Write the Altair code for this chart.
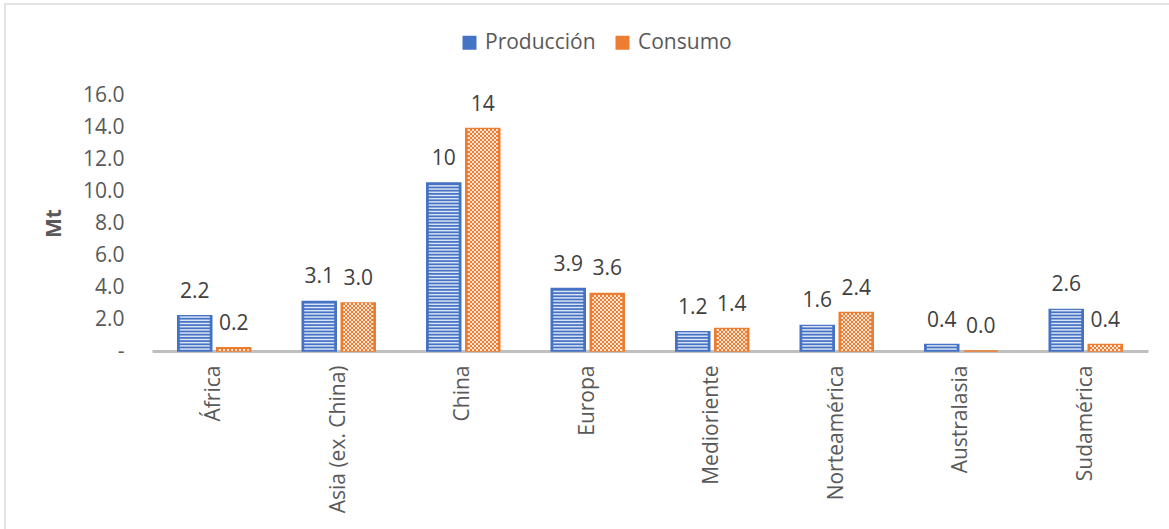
import altair as alt
import pandas as pd

# ---- data ----
categorias = ["África", "Asia (ex. China)", "China", "Europa",
              "Medioriente", "Norteamérica", "Australasia", "Sudamérica"]
series = ["Producción", "Consumo"]
produccion = [2.2, 3.1, 10.5, 3.9, 1.2, 1.6, 0.4, 2.6]
consumo = [0.2, 3.0, 13.9, 3.6, 1.4, 2.4, 0.0, 0.4]
etiquetas_produccion = ["2.2", "3.1", "10", "3.9", "1.2", "1.6", "0.4", "2.6"]
etiquetas_consumo = ["0.2", "3.0", "14", "3.6", "1.4", "2.4", "0.0", "0.4"]
ticks_y = [0, 2, 4, 6, 8, 10, 12, 14, 16]

colores = ["#4472C4", "#ED7D31"]
FONT = "Open Sans"
GRIS = "#595959"
FS = 21

rows = []
for i, c in enumerate(categorias):
    rows.append({"region": c, "serie": series[0], "valor": produccion[i], "etiqueta": etiquetas_produccion[i]})
    rows.append({"region": c, "serie": series[1], "valor": consumo[i], "etiqueta": etiquetas_consumo[i]})
df = pd.DataFrame(rows)

# checker gradients (style only)
def checker(parity, n=15, light="#FBE5D6", clear="rgba(251,229,214,0)"):
    stops = []
    for j in range(n):
        col = light if (j + parity) % 2 == 0 else clear
        stops.append(alt.GradientStop(offset=j / n, color=col))
        stops.append(alt.GradientStop(offset=(j + 1) / n, color=col))
    return alt.LinearGradient(gradient="linear", stops=stops, x1=0, x2=1, y1=0, y2=0)

x_axis = alt.Axis(title=None, labelAngle=270, labelAlign="right", labelBaseline="middle",
                  ticks=False, domainColor="#BFBFBF", domainWidth=3, labelPadding=14,
                  labelFontSize=FS, labelFont=FONT, labelColor=GRIS, labelLimit=400)
y_axis = alt.Axis(values=ticks_y, grid=False, domain=False, ticks=False,
                  labelOverlap=False,
                  labelExpr="datum.value == 0 ? '-' : format(datum.value, '.1f')",
                  labelPadding=28, labelFontSize=FS, labelFont=FONT, labelColor=GRIS,
                  title="Mt", titleFont=FONT, titleFontSize=FS, titleFontWeight="bold",
                  titleColor=GRIS, titleAngle=270, titleX=-98, titleY=128,
                  titleAlign="center", titleBaseline="middle")
y_scale = alt.Scale(domain=[0, 16], nice=False)

x_enc = alt.X("region:N", sort=categorias,
              scale=alt.Scale(paddingInner=0, paddingOuter=0), axis=x_axis)
xo_enc = alt.XOffset("serie:N", sort=series,
                     scale=alt.Scale(paddingInner=0.128, paddingOuter=0.66))

def y_of(field):
    return alt.Y(field, scale=y_scale, axis=y_axis, title="Mt")

base = alt.Chart(df)

marco = alt.Chart(pd.DataFrame({"marco": [1]})).mark_rect(
    fillOpacity=0, stroke="#D9D9D9", strokeWidth=1.5
).encode(x=alt.value(-147), x2=alt.value(1030), y=alt.value(-91), y2=alt.value(450))

barras = base.mark_bar(strokeWidth=1.5).encode(
    x=x_enc, xOffset=xo_enc, y=y_of("valor:Q"),
    fill=alt.Fill("serie:N", sort=series,
                  scale=alt.Scale(domain=series, range=colores),
                  legend=alt.Legend(orient="none", legendX=307, legendY=-63, direction="horizontal",
                                    title=None, symbolType="square", symbolSize=196,
                                    labelFontSize=FS, labelFont=FONT, labelColor=GRIS,
                                    columnPadding=16, labelOffset=5, symbolStrokeWidth=0)),
    stroke=alt.Stroke("serie:N", sort=series, scale=alt.Scale(domain=series, range=colores), legend=None),
)

rayas = base.transform_filter(alt.datum.serie == series[0]).transform_calculate(
    s="sequence(0.12, datum.valor - 0.06, 0.2)"
).transform_flatten(["s"]).mark_tick(size=30, thickness=1.5, color="#DAE3F3", opacity=1).encode(
    x=x_enc, xOffset=xo_enc, y=y_of("s:Q"))

cuadros_a = base.transform_filter(alt.datum.serie == series[1]).transform_calculate(
    s="sequence(0.0625, datum.valor - 0.06, 0.25)"
).transform_flatten(["s"]).mark_tick(size=30, thickness=2, fill=checker(0), opacity=1).encode(
    x=x_enc, xOffset=xo_enc, y=y_of("s:Q"))

cuadros_b = base.transform_filter(alt.datum.serie == series[1]).transform_calculate(
    s="sequence(0.1875, datum.valor - 0.06, 0.25)"
).transform_flatten(["s"]).mark_tick(size=30, thickness=2, fill=checker(1), opacity=1).encode(
    x=x_enc, xOffset=xo_enc, y=y_of("s:Q"))

textos = base.mark_text(dy=-18, baseline="alphabetic", align="center", fontSize=FS,
                        font=FONT, color="#404040").encode(
    x=x_enc, xOffset=xo_enc, y=y_of("valor:Q"), text="etiqueta:N")

chart = alt.layer(barras, marco, rayas, cuadros_a, cuadros_b, textos).properties(
    width=996, height=256,
    autosize=alt.AutoSizeParams(type="none"),
    padding={"left": 152, "top": 95, "right": 21, "bottom": 178},
    background="white",
).configure_view(strokeWidth=0).configure_axisY(labelOverlap=False)

chart.save("out.html", embed_options={"renderer": "svg", "actions": False})
